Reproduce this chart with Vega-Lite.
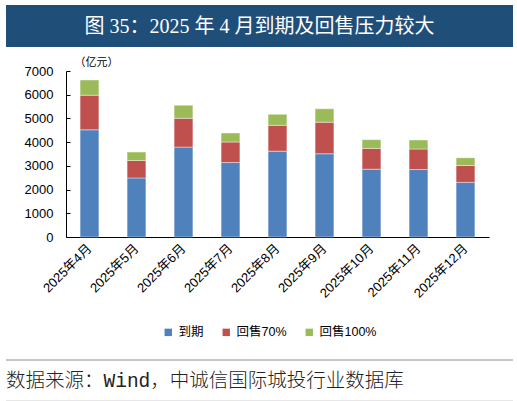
{
  "$schema": "https://vega.github.io/schema/vega-lite/v6.json",
  "background": "white",
  "padding": 5,
  "spacing": 9,
  "resolve": {"scale": {"color": "independent"}},
  "datasets": {
    "debt": [
      {"m": "2025年4月", "s": "到期", "k": 1, "v": 4520},
      {"m": "2025年4月", "s": "回售70%", "k": 2, "v": 1460},
      {"m": "2025年4月", "s": "回售100%", "k": 3, "v": 640},
      {"m": "2025年5月", "s": "到期", "k": 1, "v": 2490},
      {"m": "2025年5月", "s": "回售70%", "k": 2, "v": 735},
      {"m": "2025年5月", "s": "回售100%", "k": 3, "v": 355},
      {"m": "2025年6月", "s": "到期", "k": 1, "v": 3790},
      {"m": "2025年6月", "s": "回售70%", "k": 2, "v": 1215},
      {"m": "2025年6月", "s": "回售100%", "k": 3, "v": 550},
      {"m": "2025年7月", "s": "到期", "k": 1, "v": 3140},
      {"m": "2025年7月", "s": "回售70%", "k": 2, "v": 865},
      {"m": "2025年7月", "s": "回售100%", "k": 3, "v": 380},
      {"m": "2025年8月", "s": "到期", "k": 1, "v": 3620},
      {"m": "2025年8月", "s": "回售70%", "k": 2, "v": 1090},
      {"m": "2025年8月", "s": "回售100%", "k": 3, "v": 465},
      {"m": "2025年9月", "s": "到期", "k": 1, "v": 3510},
      {"m": "2025年9月", "s": "回售70%", "k": 2, "v": 1330},
      {"m": "2025年9月", "s": "回售100%", "k": 3, "v": 565},
      {"m": "2025年10月", "s": "到期", "k": 1, "v": 2860},
      {"m": "2025年10月", "s": "回售70%", "k": 2, "v": 875},
      {"m": "2025年10月", "s": "回售100%", "k": 3, "v": 370},
      {"m": "2025年11月", "s": "到期", "k": 1, "v": 2845},
      {"m": "2025年11月", "s": "回售70%", "k": 2, "v": 865},
      {"m": "2025年11月", "s": "回售100%", "k": 3, "v": 380},
      {"m": "2025年12月", "s": "到期", "k": 1, "v": 2305},
      {"m": "2025年12月", "s": "回售70%", "k": 2, "v": 710},
      {"m": "2025年12月", "s": "回售100%", "k": 3, "v": 325}
    ]
  },
  "vconcat": [
    {
      "width": 507,
      "height": 42,
      "view": {"fill": "#1f4e79", "stroke": null},
      "data": {"values": [{"t": "图 35：2025 年 4 月到期及回售压力较大"}]},
      "mark": {
        "type": "text",
        "color": "white",
        "font": "Liberation Serif, Noto Sans CJK SC",
        "fontSize": 20,
        "align": "center",
        "baseline": "middle",
        "dy": 1
      },
      "encoding": {"text": {"field": "t"}}
    },
    {
      "spacing": 0,
      "hconcat": [
        {
          "width": 1,
          "height": 1,
          "data": {"values": [{"t": ""}]},
          "mark": {"type": "text"},
          "encoding": {"text": {"field": "t"}}
        },
        {
          "width": 423,
          "height": 166,
          "data": {"name": "debt"},
          "mark": {"type": "bar", "stroke": "white", "strokeWidth": 0.8, "strokeOpacity": 0.5},
          "encoding": {
            "x": {
              "field": "m",
              "type": "ordinal",
              "sort": null,
              "scale": {"paddingInner": 0.6, "paddingOuter": 0.3},
              "axis": {
                "title": null,
                "labelAngle": -45,
                "labelAlign": "right",
                "labelBaseline": "middle",
                "labelPadding": 9,
                "labelFontSize": 13,
                "ticks": false
              }
            },
            "y": {
              "field": "v",
              "type": "quantitative",
              "aggregate": "sum",
              "stack": "zero",
              "scale": {"domain": [0, 7000]},
              "axis": {
                "title": "（亿元）",
                "titleAngle": 0,
                "titleAlign": "left",
                "titleBaseline": "middle",
                "titleX": 8,
                "titleY": -9,
                "titleFontSize": 11,
                "titleFontWeight": "normal",
                "values": [0, 1000, 2000, 3000, 4000, 5000, 6000, 7000],
                "format": "d",
                "tickSize": -4,
                "labelPadding": 17,
                "labelFontSize": 13,
                "minExtent": 59,
                "grid": false
              }
            },
            "color": {
              "field": "s",
              "type": "nominal",
              "sort": ["到期", "回售70%", "回售100%"],
              "scale": {
                "domain": ["到期", "回售70%", "回售100%"],
                "range": ["#4f81bd", "#c0504d", "#9bbb59"]
              },
              "legend": {
                "title": null,
                "orient": "none",
                "legendX": 145,
                "legendY": 244,
                "direction": "horizontal",
                "symbolType": "square",
                "symbolSize": 55,
                "symbolStrokeWidth": 0,
                "labelFontSize": 12.5,
                "labelOffset": 4,
                "columnPadding": 16,
                "padding": 11
              }
            },
            "order": {"field": "k", "type": "quantitative", "sort": "ascending"}
          }
        }
      ]
    },
    {
      "width": 507,
      "height": 41,
      "view": {"stroke": null},
      "layer": [
        {
          "data": {"values": [{"p": 1}]},
          "mark": {"type": "rule", "strokeWidth": 1, "color": "#8c8c8c"},
          "encoding": {
            "y": {"field": "p", "type": "quantitative", "scale": {"domain": [0, 1]}, "axis": null}
          }
        },
        {
          "data": {"values": [{"p": 0}]},
          "mark": {"type": "rule", "strokeWidth": 1, "color": "#cfcfcf"},
          "encoding": {
            "y": {"field": "p", "type": "quantitative", "scale": {"domain": [0, 1]}, "axis": null}
          }
        },
        {
          "data": {"values": [{"t": "数据来源：Wind，中诚信国际城投行业数据库", "x": 0, "y": 0.5}]},
          "mark": {
            "type": "text",
            "align": "left",
            "baseline": "middle",
            "font": "Liberation Mono, Noto Sans CJK SC",
            "fontSize": 19.5,
            "fontWeight": 300,
            "color": "#222222"
          },
          "encoding": {
            "x": {"field": "x", "type": "quantitative", "scale": {"domain": [0, 1]}, "axis": null},
            "y": {"field": "y", "type": "quantitative", "scale": {"domain": [0, 1]}, "axis": null},
            "text": {"field": "t"}
          }
        }
      ]
    }
  ],
  "config": {
    "font": "Liberation Sans, Noto Sans CJK SC",
    "axis": {
      "domainColor": "black",
      "tickColor": "black",
      "labelColor": "black",
      "titleColor": "black",
      "labelFont": "Liberation Sans, Noto Sans CJK SC",
      "titleFont": "Noto Sans CJK SC"
    },
    "legend": {
      "labelColor": "black",
      "labelFont": "Liberation Sans, Noto Sans CJK SC"
    },
    "view": {"stroke": null}
  }
}
